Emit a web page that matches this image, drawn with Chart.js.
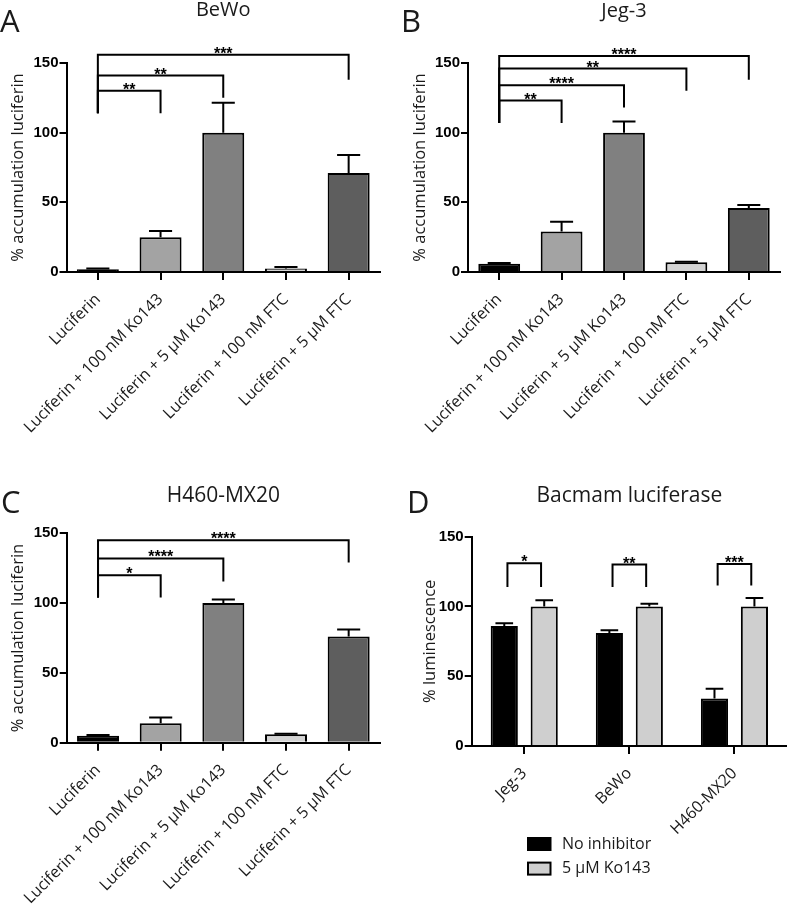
<!DOCTYPE html>
<html>
<head>
<meta charset="utf-8">
<script src="https://cdn.jsdelivr.net/npm/chart.js@4.4.1/dist/chart.umd.min.js"></script>
<style>
  body { margin: 0; background: #fff; }
  #fig { position: relative; width: 787px; height: 915px; overflow: hidden; }
  #fig canvas { position: absolute; }
</style>
</head>
<body>
<div id="fig">
  <canvas id="panelA" width="393" height="455" style="left:0;top:0"></canvas>
  <canvas id="panelB" width="394" height="455" style="left:393px;top:0"></canvas>
  <canvas id="panelC" width="393" height="460" style="left:0;top:455px"></canvas>
  <canvas id="panelD" width="394" height="460" style="left:393px;top:455px"></canvas>
</div>
<script>
// --- data ---
const treatments = ['Luciferin', 'Luciferin + 100 nM Ko143', 'Luciferin + 5 µM Ko143',
                    'Luciferin + 100 nM FTC', 'Luciferin + 5 µM FTC'];
const treatmentColors = ['#000000', '#a3a3a3', '#808080', '#d4d4d4', '#5e5e5e'];
const yTicks = [0, 50, 100, 150];

const bewoMean = [2, 25, 100, 2.5, 71];
const bewoErr  = [0.5, 4.5, 21.5, 1, 13];
const jegMean  = [6, 29, 100, 7, 46];
const jegErr   = [0.5, 7, 8, 0.3, 2];
const h460Mean = [5, 14, 100, 6, 76];
const h460Err  = [0.5, 4, 2.5, 0.5, 5];

// brackets: from/to = category index, y = bar height, left/right = leg ends
const bewoSig = [
  { from: 0, to: 1, y: 130, left: 114, right: 114, label: '**' },
  { from: 0, to: 2, y: 141, left: 114, right: 125, label: '**' },
  { from: 0, to: 4, y: 156, left: 114, right: 138, label: '***' }
];
const jegSig = [
  { from: 0, to: 1, y: 123, left: 107, right: 107, label: '**' },
  { from: 0, to: 2, y: 134, left: 107, right: 118, label: '****' },
  { from: 0, to: 3, y: 146, left: 107, right: 130, label: '**' },
  { from: 0, to: 4, y: 155, left: 107, right: 138, label: '****' }
];
const h460Sig = [
  { from: 0, to: 1, y: 120, left: 104, right: 104, label: '*' },
  { from: 0, to: 2, y: 132, left: 104, right: 115.5, label: '****' },
  { from: 0, to: 4, y: 145, left: 104, right: 129, label: '****' }
];

const cellLines = ['Jeg-3', 'BeWo', 'H460-MX20'];
const noInhibMean = [86, 81, 34];
const noInhibErr  = [2, 2, 7];
const ko143Mean   = [100, 100, 100];
const ko143Err    = [4.5, 2, 6];
const bacmamSig = [
  { from: -0.16, to: 0.16, y: 131, left: 114, right: 114, label: '*' },
  { from: 0.84, to: 1.16, y: 130, left: 114, right: 114, label: '**' },
  { from: 1.84, to: 2.16, y: 130.5, left: 115, right: 115, label: '***' }
];

const TXT = '#1a1a1a';
const SANS = '"Open Sans", "Noto Sans", sans-serif';
const BOLD = '"Liberation Sans", Arial, sans-serif';

// error bars (upper half only, as in the figure)
function errorBars(capRatio) {
  return {
    id: 'errorBars',
    afterDatasetsDraw(chart) {
      const ctx = chart.ctx, y = chart.scales.y;
      ctx.save();
      ctx.strokeStyle = '#000';
      ctx.lineWidth = 2;
      chart.data.datasets.forEach((ds, di) => {
        const meta = chart.getDatasetMeta(di);
        (ds.errors || []).forEach((e, i) => {
          const bar = meta.data[i];
          const top = y.getPixelForValue(ds.data[i] + e);
          const half = bar.width * capRatio / 2;
          ctx.beginPath();
          ctx.moveTo(bar.x, bar.y);
          ctx.lineTo(bar.x, top);
          ctx.moveTo(bar.x - half, top);
          ctx.lineTo(bar.x + half, top);
          ctx.stroke();
        });
      });
      ctx.restore();
    }
  };
}

function brackets(list) {
  return {
    id: 'brackets',
    afterDatasetsDraw(chart) {
      const { ctx, scales: { x, y } } = chart;
      ctx.save();
      ctx.strokeStyle = '#000';
      ctx.lineWidth = 2;
      ctx.fillStyle = '#000';
      ctx.font = 'bold 16px ' + BOLD;
      ctx.textAlign = 'center';
      ctx.textBaseline = 'alphabetic';
      list.forEach(b => {
        const x1 = x.getPixelForValue(b.from), x2 = x.getPixelForValue(b.to);
        const yb = y.getPixelForValue(b.y);
        ctx.beginPath();
        ctx.moveTo(x1, y.getPixelForValue(b.left));
        ctx.lineTo(x1, yb);
        ctx.lineTo(x2, yb);
        ctx.lineTo(x2, y.getPixelForValue(b.right));
        ctx.stroke();
        ctx.fillText(b.label, (x1 + x2) / 2, yb + 4);
      });
      ctx.restore();
    }
  };
}

// panel letter + panel title
function headings(letter, lx, ly, title, tSize, ty) {
  return {
    id: 'headings',
    afterDraw(chart) {
      const ctx = chart.ctx, area = chart.chartArea;
      ctx.save();
      ctx.fillStyle = TXT;
      ctx.textBaseline = 'alphabetic';
      ctx.textAlign = 'left';
      ctx.font = '31px ' + SANS;
      ctx.fillText(letter, lx, ly);
      ctx.textAlign = 'center';
      ctx.font = tSize + 'px ' + SANS;
      ctx.fillText(title, (area.left + area.right) / 2, ty);
      ctx.restore();
    }
  };
}

const boxLegend = {
  id: 'boxLegend',
  afterDraw(chart) {
    const ctx = chart.ctx;
    ctx.save();
    ctx.font = '16px ' + SANS;
    ctx.textBaseline = 'middle';
    ctx.textAlign = 'left';
    chart.data.datasets.forEach((ds, i) => {
      const top = 383 + i * 24.6;
      ctx.fillStyle = ds.backgroundColor;
      ctx.fillRect(135, top, 22.5, 12);
      ctx.strokeStyle = '#000';
      ctx.lineWidth = 2;
      ctx.strokeRect(135, top, 22.5, 12);
      ctx.fillStyle = TXT;
      ctx.fillText(ds.label, 169, top + 6);
    });
    ctx.restore();
  }
};

function baseOptions(p) {
  return {
    responsive: false,
    animation: false,
    devicePixelRatio: 1,
    layout: { padding: { top: p.top, right: p.right, bottom: 0, left: 0 } },
    plugins: { legend: { display: false }, tooltip: { enabled: false } },
    scales: {
      x: {
        grid: { display: true, offset: false, drawOnChartArea: false, drawTicks: true,
                tickLength: 8, color: '#000', lineWidth: 2 },
        border: { display: true, color: '#000', width: 2 },
        ticks: { color: TXT, font: { family: SANS, size: 16 }, minRotation: 45, maxRotation: 45,
                 autoSkip: false, padding: 10 },
        afterFit(s) { s.height = p.xh; }
      },
      y: {
        min: 0, max: 150,
        afterBuildTicks(s) { s.ticks = yTicks.map(v => ({ value: v })); },
        grid: { display: true, drawOnChartArea: false, drawTicks: true,
                tickLength: 7, color: '#000', lineWidth: 2 },
        border: { display: true, color: '#000', width: 2 },
        ticks: { color: '#000', font: { family: BOLD, size: 15, weight: 'bold' }, padding: 1 },
        title: { display: true, text: p.ytitle, color: TXT, font: { family: SANS, size: 16.5 },
                 padding: { top: p.tpad, bottom: 0 } },
        afterFit(s) { s.width = p.yw; }
      }
    }
  };
}

function treatmentChart(id, mean, err, sig, p, head) {
  return new Chart(document.getElementById(id), {
    type: 'bar',
    data: {
      labels: treatments,
      datasets: [{
        data: mean,
        errors: err,
        backgroundColor: treatmentColors,
        borderColor: '#000',
        borderWidth: 2,
        categoryPercentage: 1,
        barPercentage: 0.67
      }]
    },
    options: baseOptions(p),
    plugins: [errorBars(0.55), brackets(sig), head]
  });
}

treatmentChart('panelA', bewoMean, bewoErr, bewoSig,
  { top: 63, right: 13, xh: 183, yw: 66.5, tpad: 8, ytitle: '% accumulation luciferin' },
  headings('A', 0, 32, 'BeWo', 20, 16));
treatmentChart('panelB', jegMean, jegErr, jegSig,
  { top: 63, right: 7, xh: 183, yw: 75, tpad: 17, ytitle: '% accumulation luciferin' },
  headings('B', 8, 32, 'Jeg-3', 20, 16.5));
treatmentChart('panelC', h460Mean, h460Err, h460Sig,
  { top: 78.3, right: 13, xh: 172.3, yw: 66.7, tpad: 8, ytitle: '% accumulation luciferin' },
  headings('C', 1, 58, 'H460-MX20', 21, 47.3));

new Chart(document.getElementById('panelD'), {
  type: 'bar',
  data: {
    labels: cellLines,
    datasets: [
      { label: 'No inhibitor', data: noInhibMean, errors: noInhibErr, backgroundColor: '#000000',
        borderColor: '#000', borderWidth: 2, categoryPercentage: 0.76, barPercentage: 0.68 },
      { label: '5 µM Ko143', data: ko143Mean, errors: ko143Err, backgroundColor: '#cfcfcf',
        borderColor: '#000', borderWidth: 2, categoryPercentage: 0.76, barPercentage: 0.68 }
    ]
  },
  options: baseOptions({ top: 81.7, right: 0, xh: 169, yw: 78.7, tpad: 27, ytitle: '% luminescence' }),
  plugins: [errorBars(0.65), brackets(bacmamSig), boxLegend,
            headings('D', 14, 58, 'Bacmam luciferase', 21, 47.3)]
});
</script>
</body>
</html>
